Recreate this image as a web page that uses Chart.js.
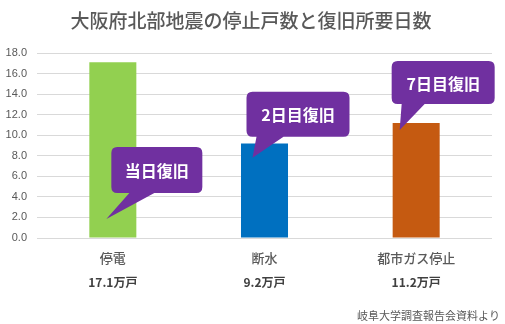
<!DOCTYPE html>
<html><head><meta charset="utf-8">
<script src="https://cdn.jsdelivr.net/npm/chart.js@4/dist/chart.umd.min.js"></script>
<style>html,body{margin:0;padding:0;background:#fff;}canvas{display:block;}</style>
</head><body>
<canvas id="c" width="505" height="324"></canvas>
<script>
const categories = ["停電", "断水", "都市ガス停止"];
const subLabels = ["17.1万戸", "9.2万戸", "11.2万戸"];
const values = [17.1, 9.2, 11.2];
const barColors = ["#92D050", "#0070C0", "#C55A11"];
const calloutTexts = ["当日復旧", "2日目復旧", "7日目復旧"];
const calloutTipValues = [1.85, 7.8, 10.5];
const titleText = "大阪府北部地震の停止戸数と復旧所要日数";
const sourceText = "岐阜大学調査報告会資料より";
const FONT = '"Noto Sans CJK JP", "Noto Sans", sans-serif';

// layout of each callout relative to its tip (style only)
const calloutGeom = [
  {tipDx: -6.5, left: 5, top: -72, w: 91, h: 46, b1: 18, b2: 43},
  {tipDx: -12, left: -6, top: -66, w: 103, h: 45, b1: 10, b2: 37},
  {tipDx: -16.5, left: -8, top: -69, w: 103, h: 43, b1: 10, b2: 33}
];

const decor = {
  id: 'decor',
  afterDraw(chart) {
    const ctx = chart.ctx;
    const xs = chart.scales.x, ys = chart.scales.y;
    ctx.save();
    ctx.fillStyle = '#595959';
    ctx.font = '500 19px ' + FONT;
    ctx.textAlign = 'center';
    ctx.textBaseline = 'middle';
    ctx.fillText(titleText, 251, 21);
    categories.forEach((c, i) => {
      const x = xs.getPixelForValue(i);
      ctx.fillStyle = '#595959';
      ctx.font = '500 13px ' + FONT;
      ctx.fillText(c, x, ys.bottom + 20);
      ctx.fillStyle = '#404040';
      ctx.font = 'bold 12px ' + FONT;
      ctx.fillText(subLabels[i], x, ys.bottom + 44);
    });
    ctx.fillStyle = '#595959';
    ctx.font = '11px ' + FONT;
    ctx.textAlign = 'right';
    ctx.fillText(sourceText, 500, 316);
    calloutTexts.forEach((t, i) => {
      const g = calloutGeom[i];
      const tx = xs.getPixelForValue(i) + g.tipDx;
      const ty = ys.getPixelForValue(calloutTipValues[i]);
      const L = tx + g.left, T = ty + g.top, W = g.w, H = g.h, r = 6;
      ctx.fillStyle = '#7030A0';
      ctx.beginPath();
      ctx.moveTo(L + r, T);
      ctx.lineTo(L + W - r, T);
      ctx.quadraticCurveTo(L + W, T, L + W, T + r);
      ctx.lineTo(L + W, T + H - r);
      ctx.quadraticCurveTo(L + W, T + H, L + W - r, T + H);
      ctx.lineTo(L + g.b2, T + H);
      ctx.lineTo(tx, ty);
      ctx.lineTo(L + g.b1, T + H);
      ctx.lineTo(L + r, T + H);
      ctx.quadraticCurveTo(L, T + H, L, T + H - r);
      ctx.lineTo(L, T + r);
      ctx.quadraticCurveTo(L, T, L + r, T);
      ctx.closePath();
      ctx.fill();
      ctx.fillStyle = '#ffffff';
      ctx.font = 'bold 16px ' + FONT;
      ctx.textAlign = 'center';
      ctx.fillText(t, L + W / 2, T + H / 2 + 1);
    });
    ctx.restore();
  }
};

new Chart(document.getElementById('c'), {
  type: 'bar',
  data: {
    labels: categories,
    datasets: [{
      data: values,
      backgroundColor: barColors,
      barPercentage: 0.62,
      categoryPercentage: 0.5
    }]
  },
  options: {
    responsive: false,
    animation: false,
    layout: {padding: {left: 5, right: 13, top: 53, bottom: 86}},
    plugins: {legend: {display: false}, tooltip: {enabled: false}, title: {display: false}},
    scales: {
      x: {
        grid: {display: false},
        border: {display: false},
        ticks: {display: false},
        afterFit: s => { s.height = 0; }
      },
      y: {
        min: 0, max: 18,
        border: {display: false},
        grid: {color: '#d9d9d9', drawTicks: false},
        afterFit: s => { s.width = 32; },
        ticks: {
          stepSize: 2,
          padding: 10,
          color: '#595959',
          font: {size: 11, family: '"Liberation Sans", Arial, sans-serif'},
          callback: v => v.toFixed(1)
        }
      }
    }
  },
  plugins: [decor]
});
</script>
</body></html>
